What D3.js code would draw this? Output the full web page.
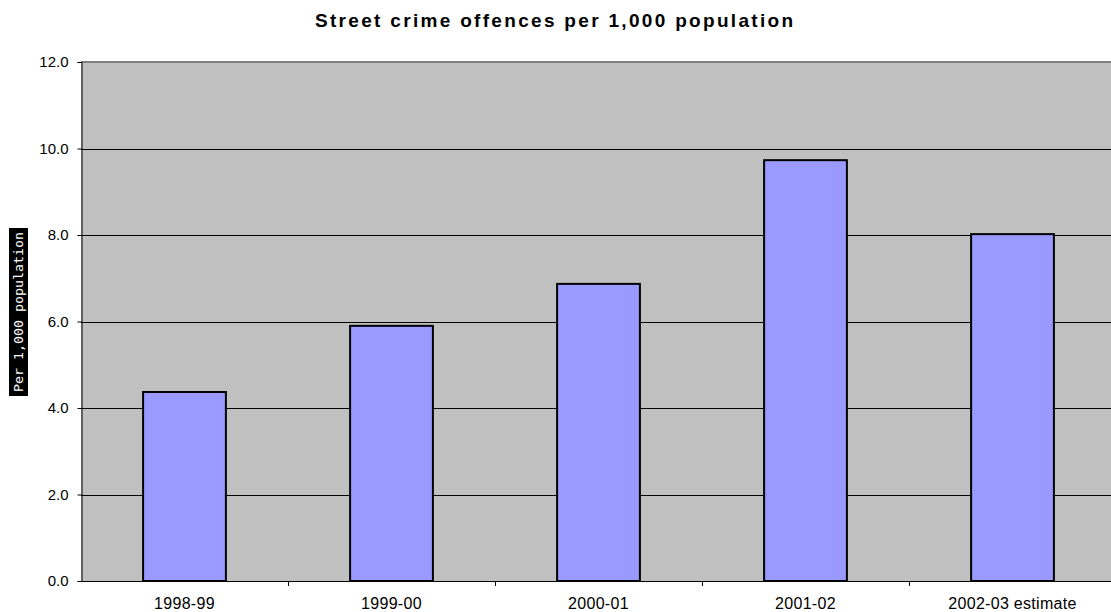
<!DOCTYPE html>
<html>
<head>
<meta charset="utf-8">
<script src="https://cdn.jsdelivr.net/npm/d3@7"></script>
<style>
  body { margin: 0; background: #fff; }
  svg { display: block; font-family: "Liberation Sans", Arial, sans-serif; }
</style>
</head>
<body>
<svg id="chart" width="1111" height="612"></svg>
<script>
// Street crime offences per 1,000 population, by year
const categories = ["1998-99", "1999-00", "2000-01", "2001-02", "2002-03 estimate"];
const rates = [4.37, 5.9, 6.87, 9.73, 8.02];
const yTicks = [0, 2, 4, 6, 8, 10, 12];

const svg = d3.select("#chart");
const plotLeft = 81, plotRight = 1116, plotTop = 62, plotBottom = 581;

const x = d3.scaleBand().domain(categories).range([plotLeft, plotRight])
  .paddingInner(0.6).paddingOuter(0.3);
const y = d3.scaleLinear().domain([0, 12]).range([plotBottom, plotTop]);

// plot background
svg.append("rect").attr("x", plotLeft).attr("y", plotTop)
  .attr("width", plotRight - plotLeft).attr("height", plotBottom - plotTop)
  .attr("fill", "#c0c0c0");

// horizontal gridlines
svg.append("g").selectAll("line").data(yTicks.filter(d => d > 0 && d < 12)).join("line")
  .attr("x1", plotLeft).attr("x2", plotRight)
  .attr("y1", d => Math.round(y(d)) + 0.5).attr("y2", d => Math.round(y(d)) + 0.5)
  .attr("stroke", "#000").attr("stroke-width", 1);

// top border
svg.append("line").attr("x1", plotLeft).attr("x2", plotRight)
  .attr("y1", plotTop).attr("y2", plotTop)
  .attr("stroke", "#808080").attr("stroke-width", 2);

// bars
svg.append("g").selectAll("rect").data(categories).join("rect")
  .attr("x", d => x(d)).attr("width", x.bandwidth())
  .attr("y", (d, i) => y(rates[i])).attr("height", (d, i) => plotBottom - y(rates[i]))
  .attr("fill", "#9999ff").attr("stroke", "#000").attr("stroke-width", 2);

// y axis
const yAxis = d3.axisLeft(y).tickValues(yTicks).tickSize(4).tickPadding(9)
  .tickFormat(d3.format(".1f"));
const gy = svg.append("g").attr("transform", `translate(${plotLeft + 0.5},0)`).call(yAxis);
gy.select(".domain").attr("stroke", "#000");
gy.selectAll(".tick line").attr("stroke", "#000");
gy.selectAll("text").attr("font-size", 15).attr("fill", "#000")
  .attr("font-family", "\"Liberation Sans\", Arial, sans-serif");

// x axis with ticks between categories
svg.append("line").attr("x1", plotLeft).attr("x2", plotRight)
  .attr("y1", plotBottom + 0.5).attr("y2", plotBottom + 0.5)
  .attr("stroke", "#000").attr("stroke-width", 1);
const step = x.step();
const boundaries = categories.slice(1).map(c => x(c) - (step - x.bandwidth()) / 2);
svg.append("g").selectAll("line").data(boundaries).join("line")
  .attr("x1", d => Math.round(d) + 0.5).attr("x2", d => Math.round(d) + 0.5)
  .attr("y1", plotBottom).attr("y2", plotBottom + 5)
  .attr("stroke", "#000");
svg.append("g").selectAll("text").data(categories).join("text")
  .attr("x", d => x(d) + x.bandwidth() / 2).attr("y", plotBottom + 28)
  .attr("text-anchor", "middle").attr("font-size", 16).attr("fill", "#000")
  .attr("letter-spacing", 0.3)
  .text(d => d);

// title
svg.append("text").attr("x", 554).attr("y", 27)
  .attr("text-anchor", "middle").attr("font-size", 19).attr("font-weight", "bold")
  .attr("textLength", 478).attr("lengthAdjust", "spacing")
  .text("Street crime offences per 1,000 population");

// y axis title on a dark box
svg.append("rect").attr("x", 9).attr("y", 228).attr("width", 19).attr("height", 168)
  .attr("fill", "#000");
svg.append("text").attr("transform", "translate(23,312) rotate(-90)")
  .attr("text-anchor", "middle").attr("font-size", 12).attr("fill", "#fff")
  .attr("font-family", "\"DejaVu Sans Mono\", monospace")
  .attr("textLength", 160).attr("lengthAdjust", "spacingAndGlyphs")
  .text("Per 1,000 population");
</script>
</body>
</html>
